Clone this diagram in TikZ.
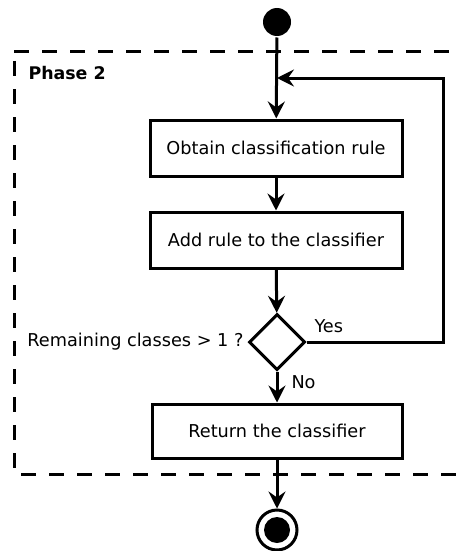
\documentclass[tikz,border=0pt]{standalone}
\usepackage{fontspec}
\setmainfont{DejaVu Sans}
\usetikzlibrary{arrows.meta,shapes.geometric}
\begin{document}
\begin{tikzpicture}[x=1pt,y=-1pt,
  line width=3pt,
  flow/.style={-{Stealth[length=17pt,width=17pt,inset=6pt]}},
  actbox/.style={draw,rectangle,minimum width=252pt,minimum height=56pt,inner sep=0pt,font=\fontsize{17.7}{20}\selectfont},
  choice/.style={draw,diamond,minimum width=56pt,minimum height=56pt,inner sep=0pt},
  lbl/.style={font=\fontsize{17.7}{20}\selectfont,inner sep=0pt},
  frame/.style={dash pattern=on 15pt off 13pt, line width=3pt}]
  \useasboundingbox (0,0) rectangle (456,551);
  % swimlane frame
  \draw[frame] (14,52) -- (460,52);
  \draw[frame] (14,61) -- (14,474) -- (460,474);
  \node[anchor=west,font=\bfseries\fontsize{17.4}{20}\selectfont,inner sep=0pt] (phase) at (27,73) {Phase 2};
  % activity nodes
  \node[circle,fill=black,minimum size=28pt,inner sep=0pt] (start) at (277,22) {};
  \node[actbox] (obtain) at (276,148) {Obtain classification rule};
  \node[actbox] (add) at (276,240) {Add rule to the classifier};
  \node[choice] (dec) at (277,342) {};
  \node[actbox,minimum width=250pt,minimum height=54pt] (ret) at (277,431) {Return the classifier};
  \node[circle,draw,line width=3pt,minimum size=40pt,inner sep=0pt] (stop) at (277,530) {};
  \node[circle,fill=black,minimum size=26pt,inner sep=0pt] (stopin) at (277,530) {};
  \coordinate (merge) at (277,78);
  \coordinate (loopr) at (443,78);
  % labels
  \node[lbl,anchor=east] (qlbl) at (245,342) {Remaining classes > 1 ?};
  \node[lbl,anchor=west] (yes) at (313,326) {Yes};
  \node[lbl,anchor=west] (no) at (290,382) {No};
  % connectors
  \draw[flow] (start) -- (obtain);
  \draw[flow] (obtain) -- (add);
  \draw[flow] (add) -- (dec);
  \draw[flow] (dec.east) -- (dec.east -| loopr) -- (loopr) -- (merge);
  \draw[flow] (dec) -- (ret);
  \draw[flow] (ret) -- (stop);
\end{tikzpicture}
\end{document}
